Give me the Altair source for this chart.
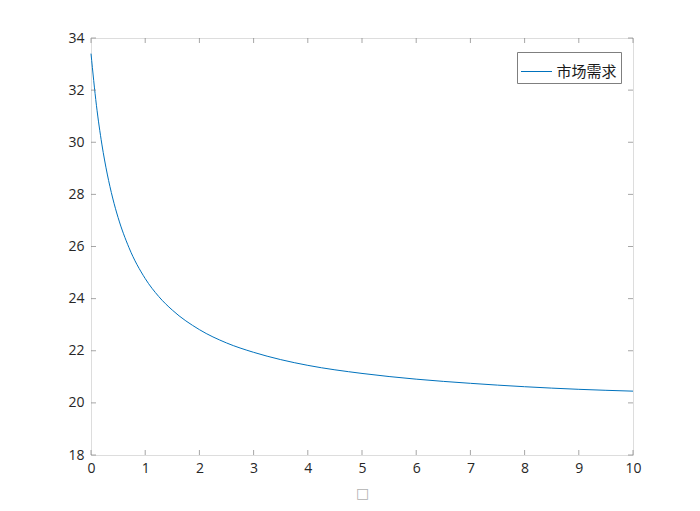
import altair as alt
import pandas as pd

# Data
x_vals = [0.0, 0.1, 0.2, 0.3, 0.4, 0.5, 0.7, 1.0, 1.25, 1.5, 2.0, 2.5, 3.0, 3.5, 4.0, 5.0, 6.0, 7.0, 8.0, 9.0, 10.0]
y_vals = [33.40, 31.42, 29.93, 28.78, 27.86, 27.11, 25.96, 24.77, 24.08, 23.56, 22.81, 22.30, 21.94, 21.66, 21.44, 21.13, 20.91, 20.75, 20.62, 20.52, 20.45]
x_ticks = [0, 1, 2, 3, 4, 5, 6, 7, 8, 9, 10]
y_ticks = [18, 20, 22, 24, 26, 28, 30, 32, 34]
series_name = "市场需求"
x_title = "□"

W, H = 542, 417
AX = "#808080"
TXT = "#262626"
FONT = "Open Sans"

df = pd.DataFrame({"x": x_vals, "y": y_vals, "series": series_name})
xt = pd.DataFrame({"x": x_ticks})
yt = pd.DataFrame({"y": y_ticks})

xs = alt.Scale(domain=[0, 10], nice=False, zero=False)
ys = alt.Scale(domain=[18, 34], nice=False, zero=False)

x_axis = alt.Axis(
    values=x_ticks, ticks=False, domain=False, grid=False,
    labelFlush=False, labelOverlap=False,
    labelPadding=6, labelFont=FONT, labelFontSize=14, labelColor=TXT,
    title=x_title, titleFont="DejaVu Sans", titleFontSize=14,
    titleFontWeight="normal", titleColor="#b0b0b0", titlePadding=11)
y_axis = alt.Axis(
    values=y_ticks, ticks=False, domain=False, grid=False,
    labelFlush=False, labelOverlap=False,
    labelPadding=7, labelFont=FONT, labelFontSize=14, labelColor=TXT,
    title=None)

line = alt.Chart(df).mark_line(strokeWidth=1, interpolate="monotone").encode(
    x=alt.X("x:Q", scale=xs, axis=x_axis),
    y=alt.Y("y:Q", scale=ys, axis=y_axis),
    color=alt.Color("series:N", scale=alt.Scale(range=["#0072BD"]), legend=alt.Legend(
        title=None, orient="none", legendX=426, legendY=14,
        strokeColor="#7f7f7f", fillColor="white", padding=3.5,
        symbolType="stroke", symbolSize=961, symbolStrokeWidth=1,
        labelFont="Noto Sans CJK SC", labelFontSize=15, labelColor="#1a1a1a",
        labelOffset=4)),
)

tick_style = dict(size=5, thickness=1, color=AX)
bottom = alt.Chart(xt).mark_tick(orient="vertical", **tick_style).encode(
    x=alt.X("x:Q", scale=xs, axis=x_axis), y=alt.value(H - 2.5))
top = alt.Chart(xt).mark_tick(orient="vertical", **tick_style).encode(
    x=alt.X("x:Q", scale=xs, axis=x_axis), y=alt.value(2.5))
left = alt.Chart(yt).mark_tick(orient="horizontal", **tick_style).encode(
    y=alt.Y("y:Q", scale=ys, axis=y_axis), x=alt.value(2.5))
right = alt.Chart(yt).mark_tick(orient="horizontal", **tick_style).encode(
    y=alt.Y("y:Q", scale=ys, axis=y_axis), x=alt.value(W - 2.5))

chart = alt.layer(line, bottom, top, left, right).properties(
    width=W, height=H,
    autosize=alt.AutoSizeParams(type="none"),
    padding={"left": 83, "top": 30, "right": 59, "bottom": 48},
).configure_view(stroke=AX, strokeWidth=1).configure(background="white")

chart.save("out.html", embed_options={"renderer": "svg", "actions": False})
